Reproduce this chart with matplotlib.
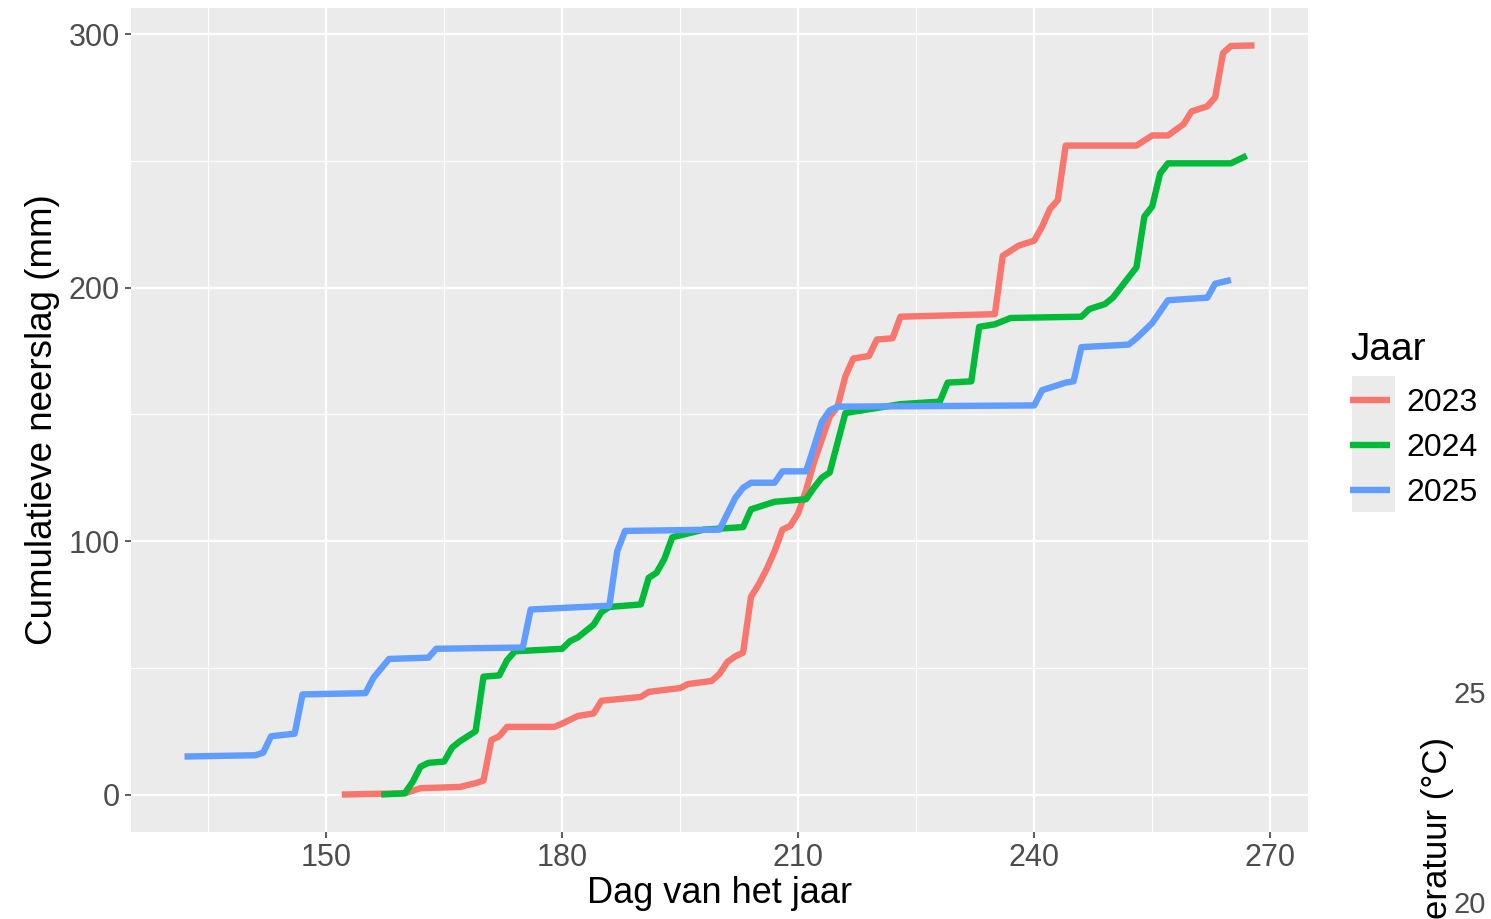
import matplotlib
matplotlib.use("Agg")
import matplotlib.pyplot as plt
from matplotlib.patches import Rectangle

dag_2023 = [152, 160, 162, 167, 169, 170, 171, 172, 173, 179, 180, 182, 184, 185, 190, 191,
            195, 196, 199, 200, 201, 202, 203, 204, 205, 206, 207, 208, 209, 210, 211, 212,
            213, 214, 215, 216, 217, 219, 220, 222, 223, 235, 236, 238, 240, 241, 242, 243,
            244, 253, 255, 257, 259, 260, 262, 263, 264, 265, 268]
mm_2023 = [0, 0.5, 2.5, 3, 4.5, 5.5, 21.5, 23, 26.7, 26.7, 28, 31, 32, 37, 38.5, 40.5,
           42, 43.6, 44.8, 47.6, 52.3, 54.5, 56, 78, 83, 89, 96, 104.5, 106, 111, 120, 131,
           140, 149, 153, 165, 172, 173, 179.5, 180, 188.5, 189.5, 212.5, 216.5, 218.5, 224, 231, 234.5,
           256, 256, 260, 260, 264.5, 269.5, 271.5, 275, 292.5, 295.3, 295.5]

dag_2024 = [157, 160, 161, 162, 163, 165, 166, 167, 168, 169, 170, 172, 173, 174, 180, 181,
            182, 183, 184, 185, 186, 190, 191, 192, 193, 194, 198, 203, 204, 206, 207, 211,
            212, 213, 214, 216, 218, 223, 228, 229, 232, 233, 235, 237, 246, 247, 249, 250,
            251, 253, 254, 255, 256, 257, 265, 267]
mm_2024 = [0, 0.5, 5, 11, 12.5, 13, 18.5, 21, 23, 25, 46.5, 47, 53, 56.5, 57.5, 60.5,
           62, 64.5, 67, 72, 74, 75, 85.5, 87.5, 93, 101.5, 104.5, 105.5, 112.5, 114.5, 115.5, 116.5,
           121, 125, 127, 150.5, 151.5, 154, 155, 162.5, 163, 184.5, 185.5, 188, 188.5, 191.5, 193.5, 196,
           200, 208, 228, 232, 245, 249, 249, 252]

dag_2025 = [132, 141, 142, 143, 146, 147, 155, 156, 158, 163, 164, 175, 176, 186, 187, 188,
            200, 202, 203, 204, 207, 208, 211, 212, 213, 214, 215, 240, 241, 244, 245, 246,
            252, 253, 255, 257, 262, 263, 265]
mm_2025 = [15, 15.5, 16.5, 23, 24, 39.5, 40, 46, 53.5, 54, 57.5, 58, 73, 74.5, 96, 104,
           104.5, 117, 121, 123, 123, 127.5, 127.5, 137, 147, 151.5, 153, 153.5, 159.5, 162.5, 163, 176.5,
           177.5, 180, 186, 195, 196, 201.5, 203]

jaren = ["2023", "2024", "2025"]
kleuren = ["#F8766D", "#00BA38", "#619CFF"]

plt.rcParams['font.family'] = ['Liberation Sans', 'DejaVu Sans']

W, H = 1491, 919
fig = plt.figure(figsize=(W / 100, H / 100), dpi=100)
fig.patch.set_facecolor("white")
ax = fig.add_axes([131 / W, 1 - 832 / H, (1308 - 131) / W, (832 - 8) / H])
ax.set_facecolor("#EBEBEB")
for s in ax.spines.values():
    s.set_visible(False)

for dagen, mm, jaar, kleur in zip([dag_2023, dag_2024, dag_2025], [mm_2023, mm_2024, mm_2025], jaren, kleuren):
    ax.plot(dagen, mm, color=kleur, lw=4.6, label=jaar, solid_joinstyle="round", solid_capstyle="butt")

# ggplot-achtige schaal: 5% uitbreiding
xmin, xmax = 132, 268
ymin, ymax = 0, 295.5
ax.set_xlim(xmin - 0.05 * (xmax - xmin), xmax + 0.05 * (xmax - xmin))
ax.set_ylim(ymin - 0.05 * (ymax - ymin), ymax + 0.05 * (ymax - ymin))

ax.set_xticks([150, 180, 210, 240, 270])
ax.set_yticks([0, 100, 200, 300])
ax.set_xticks([135, 165, 195, 225, 255], minor=True)
ax.set_yticks([50, 150, 250], minor=True)
ax.grid(which="major", color="white", lw=1.6)
ax.grid(which="minor", color="white", lw=0.8)
ax.set_axisbelow(True)
ax.tick_params(which="major", length=4, width=1.1, color="#333333", labelcolor="#4D4D4D",
               labelsize=22, pad=4)
ax.tick_params(which="minor", length=0)

ax.set_xlabel("Dag van het jaar", fontsize=26, labelpad=2)
ax.set_ylabel("Cumulatieve neerslag (mm)", fontsize=26.5, labelpad=6)

leg = ax.legend(title="Jaar", loc="upper left", bbox_to_anchor=(1350 / W, 1 - 332 / H),
                bbox_transform=fig.transFigure, frameon=False, fontsize=23, title_fontsize=28,
                alignment="left", handlelength=1.25, handletextpad=0.5, labelspacing=0.47,
                borderpad=0, borderaxespad=0)
leg._legend_box.sep = 14.5  # extra ruimte tussen titel en sleutels
fig.add_artist(Rectangle((1352 / W, 1 - 512 / H), 43 / W, 136 / H, transform=fig.transFigure,
                         facecolor="#EBEBEB", edgecolor="none", zorder=-1))

# restant van een tweede grafiek aan de rechterrand
fig.text(1470 / W, 1 - 695 / H, "25", color="#4D4D4D", fontsize=21, ha="center", va="center")
fig.text(1470 / W, 1 - 905 / H, "20", color="#4D4D4D", fontsize=21, ha="center", va="center")
fig.text(1437 / W, 0.0, "eratuur (°C)", rotation=90, fontsize=25, ha="center", va="bottom")

fig.savefig("out.png", dpi=100)
